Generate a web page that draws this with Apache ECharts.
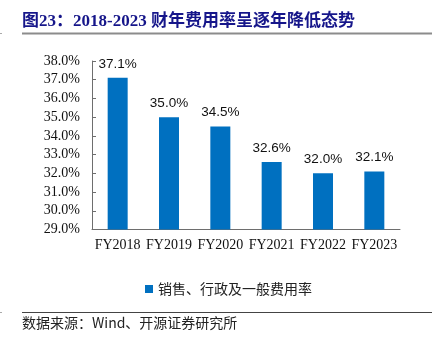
<!DOCTYPE html>
<html>
<head>
<meta charset="utf-8">
<script src="https://cdn.jsdelivr.net/npm/echarts@6/dist/echarts.min.js"></script>
<style>html,body{margin:0;padding:0;background:#fff;}#c{width:439px;height:343px;}</style>
</head>
<body>
<div id="c"></div>
<script>
var categories = ['FY2018','FY2019','FY2020','FY2021','FY2022','FY2023'];
var values = [37.1, 35.0, 34.5, 32.6, 32.0, 32.1];
var seriesName = '销售、行政及一般费用率';
var titleText = '图23：2018-2023 财年费用率呈逐年降低态势';
var sourceText = '数据来源：Wind、开源证券研究所';

var chart = echarts.init(document.getElementById('c'));
chart.setOption({
  animation: false,
  backgroundColor: '#fff',
  grid: {left: 92, right: 39, top: 61, bottom: 113.5},
  legend: {
    data: [seriesName], left: 140, top: 277,
    icon: 'rect', itemWidth: 8, itemHeight: 8, itemGap: 5,
    textStyle: {fontFamily: 'Noto Sans CJK SC', fontSize: 14, color: '#222'}
  },
  xAxis: {
    type: 'category', data: categories,
    axisLine: {lineStyle: {color: '#6e6e6e', width: 1}},
    axisTick: {inside: true, length: 4, lineStyle: {color: '#6e6e6e'}},
    axisLabel: {fontFamily: 'Liberation Serif', fontSize: 14, color: '#111', margin: 9, interval: 0}
  },
  yAxis: {
    type: 'value', min: 29, max: 38, interval: 1,
    splitLine: {show: false},
    axisLine: {show: true, lineStyle: {color: '#6e6e6e', width: 1}},
    axisTick: {show: true, inside: true, length: 4, lineStyle: {color: '#6e6e6e'}},
    axisLabel: {fontFamily: 'Liberation Serif', fontSize: 14, color: '#111', margin: 12,
      formatter: function(v){return v.toFixed(1)+'%';}}
  },
  series: [{
    name: seriesName, type: 'bar', data: values, barWidth: 20,
    itemStyle: {color: '#0070C0'},
    label: {show: true, position: 'top', distance: 7,
      fontFamily: 'Liberation Sans', fontSize: 13.5, color: '#111',
      formatter: function(p){return p.value.toFixed(1)+'%';}}
  }],
  graphic: [
    {type: 'text', left: 22, top: 13, style: {text: titleText, fill: '#16168a',
      font: 'bold 17px "Liberation Serif", "Noto Sans CJK SC"'}},
    {type: 'line', shape: {x1: 22, y1: 33.5, x2: 432, y2: 33.5}, style: {stroke: '#8c8c8c', lineWidth: 2}},
    {type: 'line', shape: {x1: 0, y1: 33.5, x2: 2, y2: 33.5}, style: {stroke: '#aaa', lineWidth: 1}},
    {type: 'line', shape: {x1: 22, y1: 312.5, x2: 432, y2: 312.5}, style: {stroke: '#444', lineWidth: 1}},
    {type: 'line', shape: {x1: 0, y1: 312.5, x2: 2, y2: 312.5}, style: {stroke: '#aaa', lineWidth: 1}},
    {type: 'text', left: 22, top: 316, style: {text: sourceText, fill: '#222',
      font: '14px "Noto Sans CJK SC"'}}
  ]
});
</script>
</body>
</html>
